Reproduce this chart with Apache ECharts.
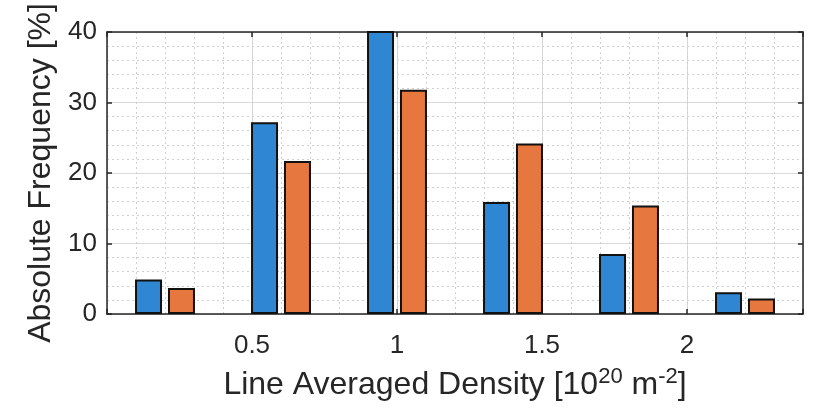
<!DOCTYPE html>
<html>
<head>
<meta charset="utf-8">
<script src="https://cdn.jsdelivr.net/npm/echarts@6/dist/echarts.min.js"></script>
<style>
html,body{margin:0;padding:0;background:#fff;}
#chart{width:818px;height:411px;}
</style>
</head>
<body>
<div id="chart"></div>
<script>
// Bin centres (Line Averaged Density, 10^20 m^-2)
var binCenters = [0.2, 0.6, 1.0, 1.4, 1.8, 2.2];
// Absolute frequency [%] for the two distributions
var seriesBlue = [4.9, 27.2, 40.5, 15.9, 8.5, 3.1];
var seriesOrange = [3.7, 21.7, 31.8, 24.2, 15.4, 2.2];
// Axis ticks
var xTicks = [0.5, 1, 1.5, 2];
var yTicks = [0, 10, 20, 30, 40];

var textColor = '#262626';
var fontFam = '"Liberation Sans", Arial, Helvetica, sans-serif';

function pairs(xs, ys) { return xs.map(function (x, i) { return [x, ys[i]]; }); }

var chart = echarts.init(document.getElementById('chart'));
chart.setOption({
  animation: false,
  backgroundColor: '#ffffff',
  grid: { left: 107, right: 15, top: 32, bottom: 97, containLabel: false },
  xAxis: [
    {
      type: 'value', min: 0, max: 2.4, interval: 0.5, position: 'bottom',
      axisLine: { show: true, onZero: false, lineStyle: { color: textColor, width: 1.5 } },
      axisTick: { show: true, inside: true, length: 5, lineStyle: { color: textColor, width: 1.5 } },
      axisLabel: {
        color: textColor, fontFamily: fontFam, fontSize: 26, margin: 19,
        formatter: function (v) { return xTicks.indexOf(v) >= 0 ? String(v) : ''; }
      },
      splitLine: { show: true, lineStyle: { color: '#d9d9d9', width: 1 } },
      name: 'Line Averaged Density [10{sup|20} m{sup|-2}]',
      nameLocation: 'middle', nameGap: 52,
      nameTextStyle: {
        color: textColor, fontFamily: fontFam, fontSize: 32, lineHeight: 38,
        rich: {
          sup: { color: textColor, fontFamily: fontFam, fontSize: 22, lineHeight: 22, verticalAlign: 'top' }
        }
      }
    },
    {
      type: 'value', min: 0, max: 2.4, interval: 0.5, position: 'top',
      axisLine: { show: true, onZero: false, lineStyle: { color: textColor, width: 1.5 } },
      axisTick: { show: true, inside: true, length: 5, lineStyle: { color: textColor, width: 1.5 } },
      axisLabel: { show: false },
      splitLine: { show: false }
    },
    {
      type: 'value', min: 0, max: 2.4, interval: 0.1, position: 'bottom',
      axisLine: { show: false }, axisTick: { show: false }, axisLabel: { show: false },
      splitLine: { show: true, lineStyle: { color: '#cfcfcf', width: 1, type: [2, 3] } }
    }
  ],
  yAxis: [
    {
      type: 'value', min: 0, max: 40, interval: 10, position: 'left',
      axisLine: { show: true, onZero: false, lineStyle: { color: textColor, width: 1.5 } },
      axisTick: { show: true, inside: true, length: 5, lineStyle: { color: textColor, width: 1.5 } },
      axisLabel: { color: textColor, fontFamily: fontFam, fontSize: 26, margin: 10 },
      splitLine: { show: true, lineStyle: { color: '#d9d9d9', width: 1 } },
      minorTick: { show: false, splitNumber: 5 },
      minorSplitLine: { show: true, lineStyle: { color: '#cfcfcf', width: 1, type: [2, 3] } },
      name: 'Absolute Frequency [%]',
      nameLocation: 'middle', nameGap: 44, nameRotate: 90,
      nameTextStyle: { color: textColor, fontFamily: fontFam, fontSize: 32 }
    },
    {
      type: 'value', min: 0, max: 40, interval: 10, position: 'right',
      axisLine: { show: true, onZero: false, lineStyle: { color: textColor, width: 1.5 } },
      axisTick: { show: true, inside: true, length: 5, lineStyle: { color: textColor, width: 1.5 } },
      axisLabel: { show: false },
      splitLine: { show: false }
    }
  ],
  series: [
    {
      type: 'bar', xAxisIndex: 0, yAxisIndex: 0,
      data: pairs(binCenters, seriesBlue),
      barWidth: 27, barGap: '22%', clip: true,
      itemStyle: { color: '#2f87d3', borderColor: '#111111', borderWidth: 2 }
    },
    {
      type: 'bar', xAxisIndex: 0, yAxisIndex: 0,
      data: pairs(binCenters, seriesOrange),
      barWidth: 27, barGap: '22%', clip: true,
      itemStyle: { color: '#e5773f', borderColor: '#111111', borderWidth: 2 }
    }
  ]
});
</script>
</body>
</html>
